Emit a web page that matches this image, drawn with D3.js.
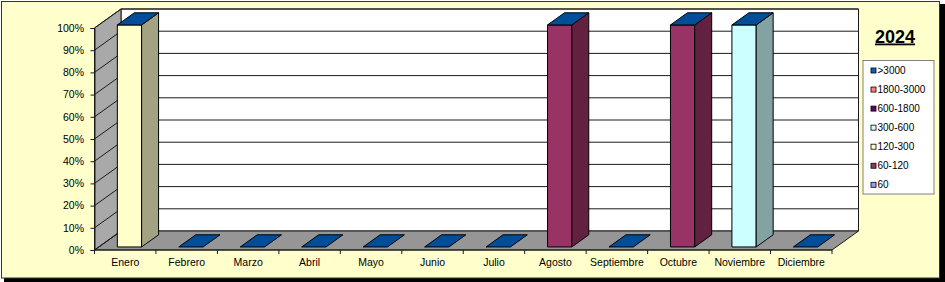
<!DOCTYPE html>
<html>
<head>
<meta charset="utf-8">
<script src="https://cdn.jsdelivr.net/npm/d3@7/dist/d3.min.js"></script>
<style>
  html, body { margin: 0; padding: 0; background: #ffffff; }
  svg { display: block; font-family: Arial, "Liberation Sans", sans-serif; }
</style>
</head>
<body>
<svg id="chart" width="945" height="282"></svg>
<script>
// ---- data ----
const categories = ["Enero","Febrero","Marzo","Abril","Mayo","Junio","Julio","Agosto","Septiembre","Octubre","Noviembre","Diciembre"];
const seriesKeys = ["60","60-120","120-300","300-600","600-1800","1800-3000",">3000"]; // bottom to top
const seriesColors = ["#9999FF","#993366","#FFFFCC","#CCFFFF","#660066","#FF8080","#0066CC"];
const v60       = [0,0,0,0,0,0,0,0,0,0,0,0];
const v60_120   = [0,0,0,0,0,0,0,100,0,100,0,0];
const v120_300  = [100,0,0,0,0,0,0,0,0,0,0,0];
const v300_600  = [0,0,0,0,0,0,0,0,0,0,100,0];
const v600_1800 = [0,0,0,0,0,0,0,0,0,0,0,0];
const v1800_3000= [0,0,0,0,0,0,0,0,0,0,0,0];
const v3000     = [0,0,0,0,0,0,0,0,0,0,0,0];
const seriesValues = [v60, v60_120, v120_300, v300_600, v600_1800, v1800_3000, v3000];
const yTicks = [0,10,20,30,40,50,60,70,80,90,100];
const legendOrder = [">3000","1800-3000","600-1800","300-600","120-300","60-120","60"];
const title = "2024";

// ---- layout ----
const svg = d3.select("#chart");
const X0 = 94.5, X1 = 832, Y0 = 250, Y100 = 28;
const DX = 26.5, DY = 19;          // full depth offset
const D1 = 0.16, D2 = 0.80;        // bar depth range (fraction)

const rows = categories.map((c, i) => {
  const r = { cat: c };
  let tot = 0;
  seriesKeys.forEach((k, j) => { r[k] = seriesValues[j][i]; tot += seriesValues[j][i]; });
  r.total = tot;
  seriesKeys.forEach(k => { r[k] = tot > 0 ? r[k] / tot * 100 : 0; });
  return r;
});
const stacked = d3.stack().keys(seriesKeys)(rows);

const xAxisScale = d3.scaleBand().domain(categories).range([X0, X1]).padding(0);
const x = d3.scaleBand().domain(categories).range([X0, X1]).paddingInner(0.605).paddingOuter(0.3025);
const y = d3.scaleLinear().domain([0, 100]).range([Y0, Y100]);
const P = (px, py, d) => [px + d * DX, py - d * DY];
const poly = pts => pts.map(p => p.join(",")).join(" ");
const scale = (hex, f) => { const c = d3.rgb(hex); return d3.rgb(c.r * f, c.g * f, c.b * f).formatHex(); };

// frame with shadow
svg.append("rect").attr("x", 4).attr("y", 4).attr("width", 941).attr("height", 278).attr("fill", "#000");
svg.append("rect").attr("x", 1.5).attr("y", 1.5).attr("width", 938).attr("height", 276.5)
  .attr("fill", "#FFFFCC").attr("stroke", "#333").attr("stroke-width", 1);

const g = svg.append("g");
const lineC = "#1a1a1a";

// back wall
g.append("polygon").attr("points", poly([P(X0, Y100, 1), P(X1, Y100, 1), P(X1, Y0, 1), P(X0, Y0, 1)]))
  .attr("fill", "#FFFFFF").attr("stroke", lineC).attr("stroke-width", 1);
// floor
g.append("polygon").attr("points", poly([[X0, Y0], [X1, Y0], P(X1, Y0, 1), P(X0, Y0, 1)]))
  .attr("fill", "#969696").attr("stroke", lineC).attr("stroke-width", 1);
// left wall
g.append("polygon").attr("points", poly([[X0, Y100], P(X0, Y100, 1), P(X0, Y0, 1), [X0, Y0]]))
  .attr("fill", "#A9A9A9").attr("stroke", lineC).attr("stroke-width", 1);

// gridlines
yTicks.forEach(t => {
  const yy = y(t);
  if (t > 0) {
    g.append("line").attr("x1", P(X0, yy, 1)[0]).attr("y1", P(X0, yy, 1)[1])
      .attr("x2", P(X1, yy, 1)[0]).attr("y2", P(X1, yy, 1)[1]).attr("stroke", lineC);
  }
  g.append("line").attr("x1", X0).attr("y1", yy).attr("x2", P(X0, yy, 1)[0]).attr("y2", P(X0, yy, 1)[1])
    .attr("stroke", lineC);
});

// bars
const topColor = scale(seriesColors[seriesColors.length - 1], 0.75);
categories.forEach((c, i) => {
  const bx0 = x(c), bx1 = x(c) + x.bandwidth();
  stacked.forEach((s, j) => {
    const lo = s[i][0], hi = s[i][1];
    if (hi - lo <= 0) return;
    const ya = y(lo), yb = y(hi);
    const col = seriesColors[j];
    // front face
    g.append("polygon").attr("points", poly([P(bx0, yb, D1), P(bx1, yb, D1), P(bx1, ya, D1), P(bx0, ya, D1)]))
      .attr("fill", col).attr("stroke", "#000").attr("stroke-width", 1);
    // side face
    g.append("polygon").attr("points", poly([P(bx1, yb, D1), P(bx1, yb, D2), P(bx1, ya, D2), P(bx1, ya, D1)]))
      .attr("fill", scale(col, 0.64)).attr("stroke", "#000").attr("stroke-width", 1);
  });
  const totTop = y(stacked[stacked.length - 1][i][1]);
  g.append("polygon").attr("points", poly([P(bx0, totTop, D1), P(bx1, totTop, D1), P(bx1, totTop, D2), P(bx0, totTop, D2)]))
    .attr("fill", topColor).attr("stroke", "#000").attr("stroke-width", 1);
});

// y axis
const yAxis = g.append("g").attr("transform", `translate(${X0},0)`)
  .call(d3.axisLeft(y).tickValues(yTicks).tickFormat(d => d + "%").tickSize(4).tickPadding(6.5));
yAxis.select(".domain").attr("stroke", lineC);
yAxis.selectAll(".tick line").attr("stroke", lineC);
yAxis.selectAll("text").attr("font-size", "10.5px").attr("fill", "#000")
  .attr("font-family", 'Arial, "Liberation Sans", sans-serif');

// x axis
const xAxis = g.append("g").attr("transform", `translate(0,${Y0})`)
  .call(d3.axisBottom(xAxisScale).tickSize(0).tickPadding(9));
xAxis.select(".domain").remove();
xAxis.selectAll("text").attr("font-size", "10.5px").attr("fill", "#000")
  .attr("font-family", 'Arial, "Liberation Sans", sans-serif');
const bounds = categories.map(c => xAxisScale(c)).concat([X1]);
g.selectAll("line.xtick").data(bounds).enter().append("line")
  .attr("x1", d => d).attr("x2", d => d).attr("y1", Y0).attr("y2", Y0 + 4).attr("stroke", lineC);
g.append("line").attr("x1", X0).attr("x2", X1).attr("y1", Y0).attr("y2", Y0).attr("stroke", lineC);

// title
svg.append("text").attr("x", 895).attr("y", 42.5).attr("text-anchor", "middle")
  .attr("font-size", "18px").attr("font-weight", "bold").attr("fill", "#000")
  .attr("text-decoration", "underline").text(title);

// legend
const lg = svg.append("g");
lg.append("rect").attr("x", 863).attr("y", 60.5).attr("width", 71).attr("height", 133.5)
  .attr("fill", "#FFFFFF").attr("stroke", "#808080");
legendOrder.forEach((k, i) => {
  const cy = 70.5 + i * 19.05;
  const col = seriesColors[seriesKeys.indexOf(k)];
  lg.append("rect").attr("x", 871).attr("y", cy - 2.5).attr("width", 5).attr("height", 5)
    .attr("fill", col).attr("stroke", "#000").attr("stroke-width", 0.8);
  lg.append("text").attr("x", 877.5).attr("y", cy + 3.6).attr("font-size", "10px").attr("fill", "#000").text(k);
});
</script>
</body>
</html>
